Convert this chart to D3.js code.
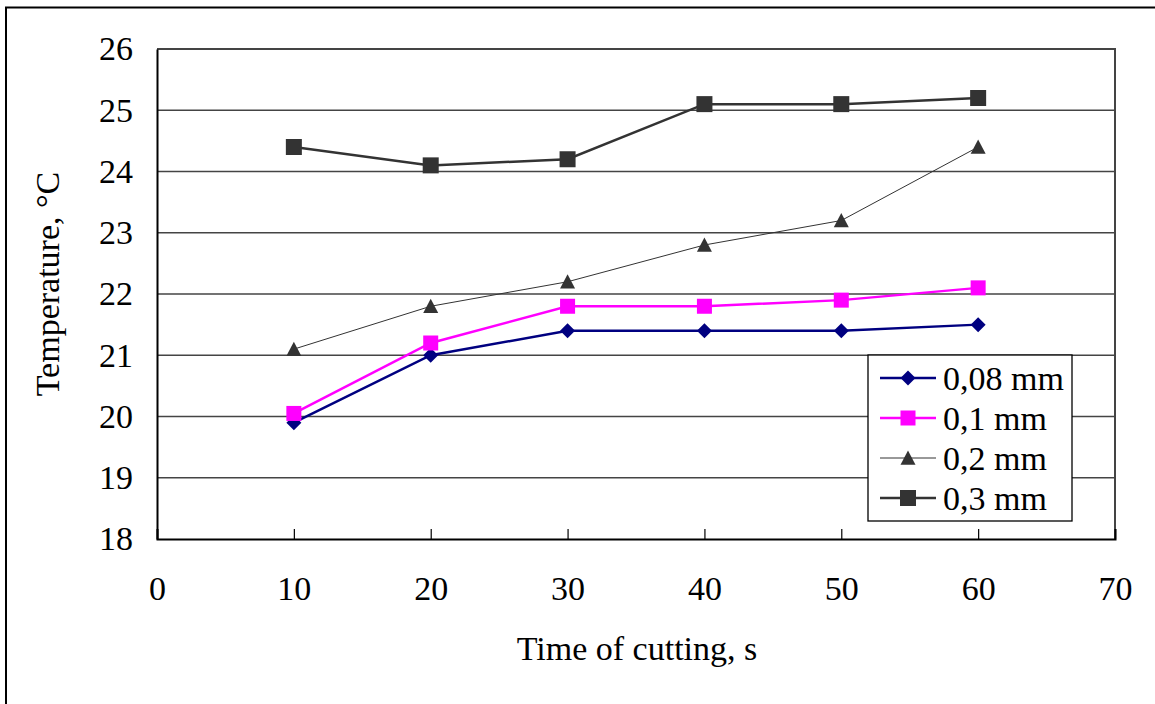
<!DOCTYPE html>
<html><head><meta charset="utf-8">
<script src="https://cdn.jsdelivr.net/npm/d3@7"></script>
<style>body{margin:0;background:#fff}svg{display:block}text{font-family:"Liberation Serif","Times New Roman",serif;fill:#000}</style>
</head><body><svg id="c" width="1155" height="704"></svg>
<script>
const times = [10, 20, 30, 40, 50, 60];
const s008 = [19.9, 21.0, 21.4, 21.4, 21.4, 21.5];
const s01  = [20.05, 21.2, 21.8, 21.8, 21.9, 22.1];
const s02  = [21.1, 21.8, 22.2, 22.8, 23.2, 24.4];
const s03  = [24.4, 24.1, 24.2, 25.1, 25.1, 25.2];
const seriesNames = ["0,08 mm", "0,1 mm", "0,2 mm", "0,3 mm"];
const xTicks = [0, 10, 20, 30, 40, 50, 60, 70];
const yTicks = [18, 19, 20, 21, 22, 23, 24, 25, 26];

const series = [
  {name: seriesNames[0], vals: s008, color: "#000080", lw: 2.5, marker: "diamond", size: 15},
  {name: seriesNames[1], vals: s01, color: "#ff00ff", lw: 2.5, marker: "square", size: 15},
  {name: seriesNames[2], vals: s02, color: "#333333", lw: 1, marker: "triangle", size: 15},
  {name: seriesNames[3], vals: s03, color: "#333333", lw: 2.5, marker: "square", size: 16}
];
const FS = 34;

const svg = d3.select("#c");
// outer frame
svg.append("rect").attr("x", 6).attr("y", 7.5).attr("width", 1200).attr("height", 800)
  .attr("fill", "none").attr("stroke", "#000").attr("stroke-width", 2);

const L = 157, R = 1115, T = 49, B = 539;
const x = d3.scaleLinear().domain([0, 70]).range([L, R]);
const y = d3.scaleLinear().domain([18, 26]).range([B, T]);

// gridlines
svg.append("g").selectAll("line").data(yTicks.slice(1, -1)).join("line")
  .attr("x1", L).attr("x2", R).attr("y1", d => y(d)).attr("y2", d => y(d))
  .attr("stroke", "#444").attr("stroke-width", 1.3);

// plot border top/right
svg.append("path").attr("d", `M${L},${T}H${R}V${B}`).attr("fill", "none")
  .attr("stroke", "#444").attr("stroke-width", 2);

// axes
const xAxis = d3.axisBottom(x).tickValues(xTicks).tickSize(-10).tickFormat(d3.format("d"));
const gx = svg.append("g").attr("transform", `translate(0,${B})`).call(xAxis);
gx.select(".domain").attr("stroke", "#000").attr("stroke-width", 2);
gx.selectAll(".tick line").attr("stroke", "#000").attr("stroke-width", 1.2);
gx.selectAll(".tick text").attr("font-size", FS).attr("font-family", "Liberation Serif")
  .attr("dy", null).attr("y", 61);

const yAxis = d3.axisLeft(y).tickValues(yTicks).tickSize(0).tickPadding(24).tickFormat(d3.format("d"));
const gy = svg.append("g").attr("transform", `translate(${L},0)`).call(yAxis);
gy.select(".domain").attr("stroke", "#000").attr("stroke-width", 2);
gy.selectAll(".tick text").attr("font-size", FS).attr("font-family", "Liberation Serif");

// axis titles
svg.append("text").attr("x", 637).attr("y", 660).attr("text-anchor", "middle")
  .attr("font-size", FS).text("Time of cutting, s");
svg.append("text").attr("transform", "translate(59,284) rotate(-90)").attr("text-anchor", "middle")
  .attr("font-size", FS).text("Temperature, °C");

function drawMarker(g, type, cx, cy, size, color) {
  const h = size / 2;
  if (type === "square") {
    g.append("rect").attr("x", cx - h).attr("y", cy - h).attr("width", size).attr("height", size).attr("fill", color);
  } else if (type === "diamond") {
    g.append("path").attr("d", `M${cx},${cy - h}L${cx + h},${cy}L${cx},${cy + h}L${cx - h},${cy}Z`).attr("fill", color);
  } else {
    g.append("path").attr("d", `M${cx},${cy - h}L${cx + h},${cy + h * 0.9}L${cx - h},${cy + h * 0.9}Z`).attr("fill", color);
  }
}

const line = d3.line().x(d => x(d[0])).y(d => y(d[1]));
series.forEach(s => {
  const pts = times.map((t, i) => [t, s.vals[i]]);
  svg.append("path").attr("d", line(pts)).attr("fill", "none").attr("stroke", s.color).attr("stroke-width", s.lw);
  const g = svg.append("g");
  pts.forEach(p => drawMarker(g, s.marker, x(p[0]), y(p[1]), s.size, s.color));
});

// legend
const lg = svg.append("g");
lg.append("rect").attr("x", 868).attr("y", 355).attr("width", 204).attr("height", 166)
  .attr("fill", "#fff").attr("stroke", "#000").attr("stroke-width", 1.3);
series.forEach((s, i) => {
  const cy = 378 + i * 40;
  lg.append("line").attr("x1", 880).attr("x2", 936).attr("y1", cy).attr("y2", cy)
    .attr("stroke", s.color).attr("stroke-width", s.lw);
  drawMarker(lg, s.marker, 908, cy, s.size, s.color);
  lg.append("text").attr("x", 943).attr("y", cy).attr("dy", "0.35em").attr("font-size", FS).text(s.name);
});
</script></body></html>
